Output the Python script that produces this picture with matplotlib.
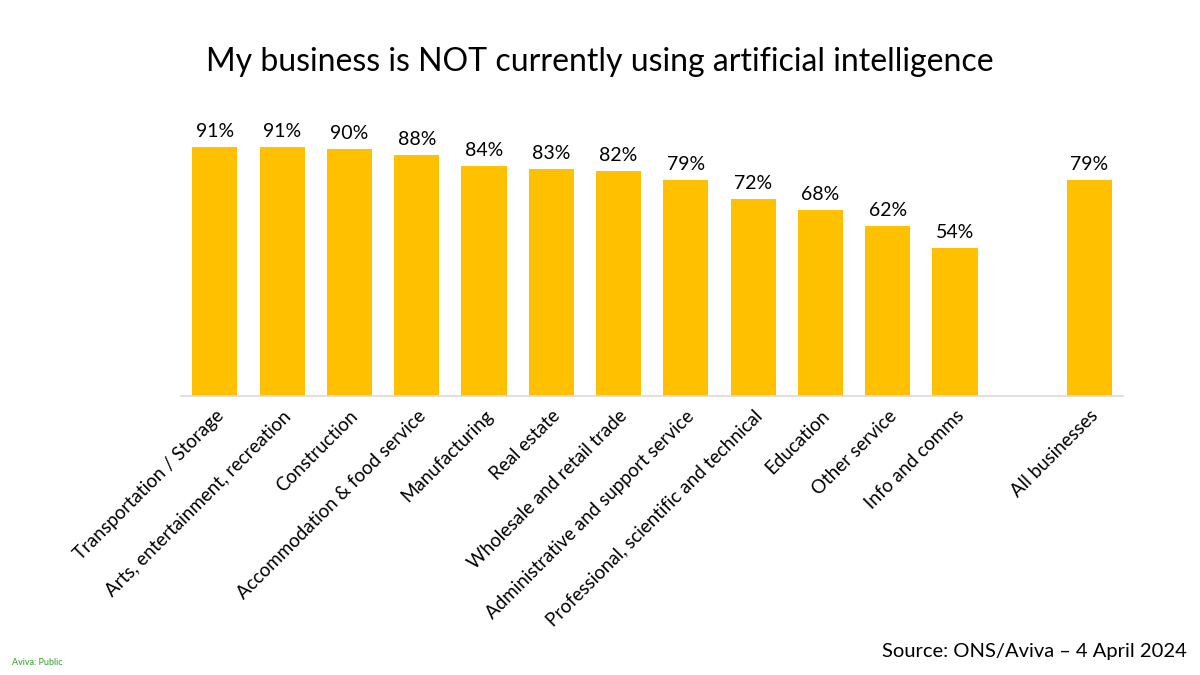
import numpy as np
import matplotlib.pyplot as plt

plt.rcParams['font.family'] = ['Lato', 'DejaVu Sans']

sectors = ["Transportation / Storage", "Arts, entertainment, recreation", "Construction",
           "Accommodation & food service", "Manufacturing", "Real estate",
           "Wholesale and retail trade", "Administrative and support service",
           "Professional, scientific and technical", "Education", "Other service",
           "Info and comms"]
values = [91, 91, 90, 88, 84, 83, 82, 79, 72, 68, 62, 54]
total_label = "All businesses"
total_value = 79

labels = sectors + [total_label]
vals = values + [total_value]
# leave an empty slot before the total
pos = list(range(len(sectors))) + [len(sectors) + 1]

fig = plt.figure(figsize=(12, 6.75), dpi=100)
ax = fig.add_axes([0.151, 0.4133, 0.785, 0.406])

gold = "#FFC000"
ax.bar(pos, vals, width=0.67, color=gold)
for x, v in zip(pos, vals):
    ax.annotate(f"{v}%", (x, v), xytext=(0, 5), textcoords="offset points",
                ha="center", va="bottom", fontsize=14, color="#000000")

ax.set_xlim(-0.5, len(sectors) + 1.5)
ax.set_ylim(0, 100)
ax.set_xticks(pos)
ax.set_xticklabels(labels, rotation=45, ha="right", rotation_mode="anchor", fontsize=13.5)
ax.tick_params(axis="x", length=0, pad=8)
ax.set_yticks([])
for s in ["top", "right", "left"]:
    ax.spines[s].set_visible(False)
ax.spines["bottom"].set_color("#D9D9D9")
ax.spines["bottom"].set_linewidth(1.2)

fig.text(0.5, 0.908, "My business is NOT currently using artificial intelligence",
         ha="center", va="center", fontsize=23)
fig.text(0.989, 0.022, "Source: ONS/Aviva \u2013 4 April 2024", ha="right", va="bottom", fontsize=14.5)
fig.text(0.01, 0.012, "Aviva: Public", ha="left", va="bottom", fontsize=6.5, color="#2E9E2E")

fig.savefig("out.png", dpi=100)
